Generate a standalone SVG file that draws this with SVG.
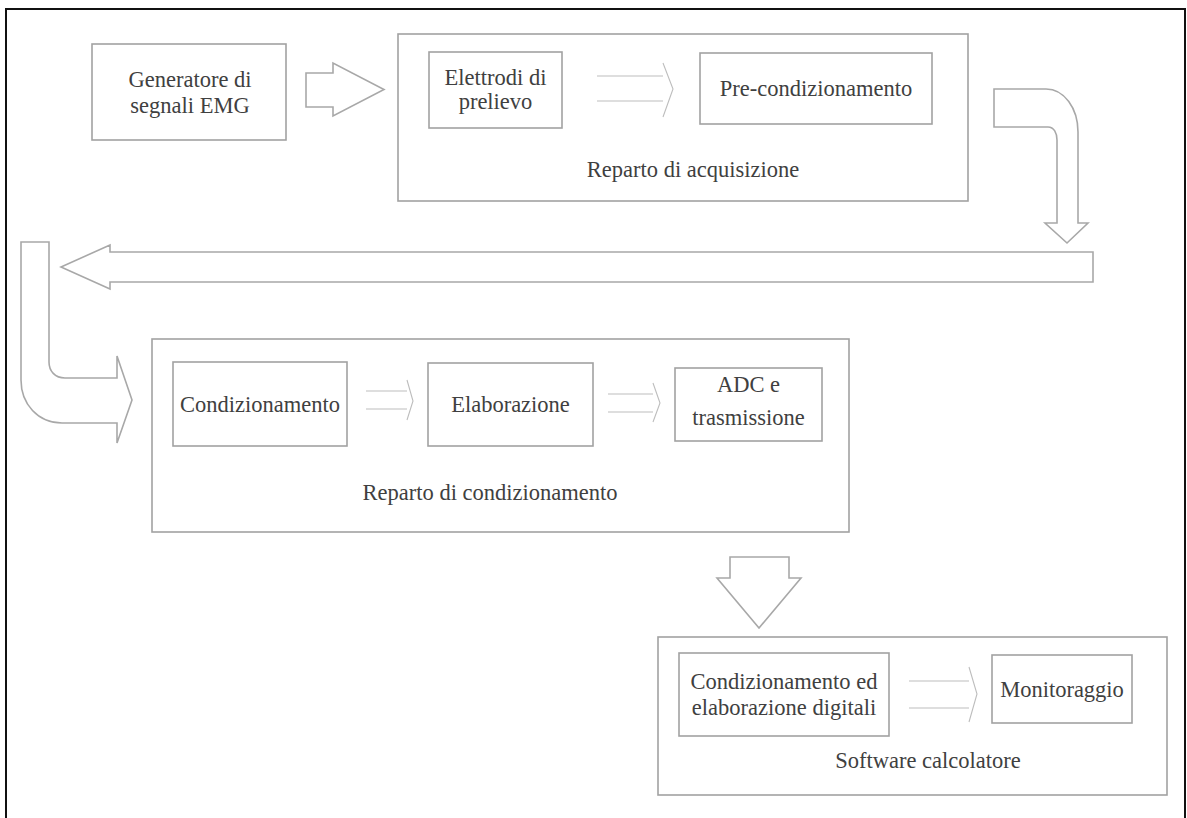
<svg xmlns="http://www.w3.org/2000/svg" width="1187" height="818" viewBox="0 0 1187 818">
<style>
.box{fill:none;stroke:#a2a2a2;stroke-width:1.6}
.blk{fill:none;stroke:#a8a8a8;stroke-width:1.6;stroke-linejoin:miter}
.thin{fill:none;stroke:#bdbdbd;stroke-width:1.1}
text{font-family:"Liberation Serif","Times New Roman",serif;font-size:22.5px;fill:#404040;text-anchor:middle}
</style>
<rect x="0" y="0" width="1187" height="818" fill="#ffffff"/>
<rect x="6" y="9" width="1179" height="830" fill="none" stroke="#111" stroke-width="2"/>

<g id="generatore">
<rect class="box" x="92" y="44" width="194" height="96"/>
<text x="190" y="87">Generatore di</text>
<text x="190" y="113">segnali EMG</text>
</g>

<g id="reparto-acquisizione">
<rect class="box" x="398" y="34" width="570" height="167"/>
<text x="693" y="177">Reparto di acquisizione</text>
</g>
<g id="elettrodi">
<rect class="box" x="429" y="52" width="133" height="76"/>
<text x="495.5" y="85">Elettrodi di</text>
<text x="495.5" y="109">prelievo</text>
</g>
<g id="precondizionamento">
<rect class="box" x="700" y="53" width="232" height="71"/>
<text x="816" y="96">Pre-condizionamento</text>
</g>

<g id="reparto-condizionamento">
<rect class="box" x="152" y="339" width="697" height="193"/>
<text x="490" y="500">Reparto di condizionamento</text>
</g>
<g id="condizionamento">
<rect class="box" x="173" y="362" width="174" height="84"/>
<text x="260" y="412">Condizionamento</text>
</g>
<g id="elaborazione">
<rect class="box" x="428" y="363" width="165" height="83"/>
<text x="510.5" y="412">Elaborazione</text>
</g>
<g id="adc">
<rect class="box" x="675" y="368" width="147" height="73"/>
<text x="748.5" y="392">ADC e</text>
<text x="748.5" y="425">trasmissione</text>
</g>

<g id="software-calcolatore">
<rect class="box" x="658" y="637" width="509" height="158"/>
<text x="928" y="768">Software calcolatore</text>
</g>
<g id="condizionamento-digitale">
<rect class="box" x="679" y="653" width="210" height="83"/>
<text x="784" y="689">Condizionamento ed</text>
<text x="784" y="715">elaborazione digitali</text>
</g>
<g id="monitoraggio">
<rect class="box" x="992" y="655" width="140" height="68"/>
<text x="1062" y="697">Monitoraggio</text>
</g>

<g id="connectors">
<path class="blk" d="M306,73 H333 V63 L384,89.5 L333,116 V107 H306 Z"/>
<path class="thin" d="M597,76 H663 M597,101 H663 M663,63 L673,89 L663,117"/>
<path class="blk" d="M994,89 H1046 C1064,89 1078,108 1078,132 V223 H1088 L1067,243 L1045,223 H1057 V140 C1057,133 1054,127 1048,127 H994 Z"/>
<path class="blk" d="M1093,252 H110 V245 L61,267 L110,289 V282 H1093 Z"/>
<path class="blk" d="M21,242 H49 V362 C49,371 55,378 65,378 H117 V356 L132,400 L117,443 V423 H62 C38,423 21,404 21,380 Z"/>
<path class="thin" d="M366,391 H407 M366,409 H407 M407,380 L413,401 L407,420"/>
<path class="thin" d="M608,394 H653 M608,412 H653 M653,383 L660,403 L653,422"/>
<path class="blk" d="M730,557 H789 V578 H801 L759,628 L717,578 H730 Z"/>
<path class="thin" d="M909,681 H969 M909,708 H969 M969,667 L977,694 L969,722"/>
</g>
</svg>
